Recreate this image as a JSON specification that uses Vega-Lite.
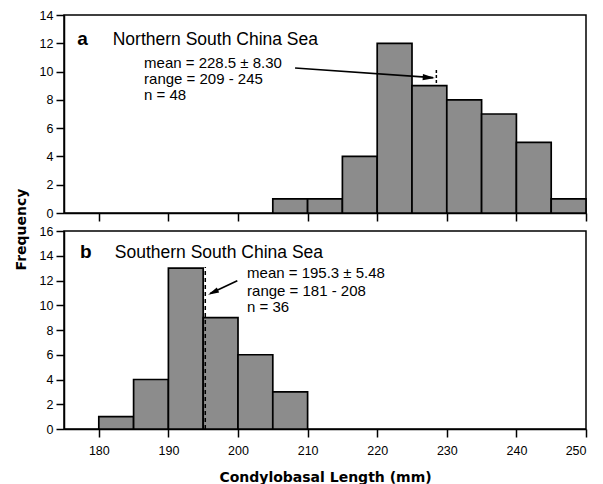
{
  "$schema": "https://vega.github.io/schema/vega-lite/v6.json",
  "padding": {"left": 13, "top": 8, "right": 5, "bottom": 2},
  "background": "white",
  "bounds": "flush",
  "spacing": 18,
  "datasets": {
    "north": [
      {"x": 205, "x2": 210, "y": 1},
      {"x": 210, "x2": 215, "y": 1},
      {"x": 215, "x2": 220, "y": 4},
      {"x": 220, "x2": 225, "y": 12},
      {"x": 225, "x2": 230, "y": 9},
      {"x": 230, "x2": 235, "y": 8},
      {"x": 235, "x2": 240, "y": 7},
      {"x": 240, "x2": 245, "y": 5},
      {"x": 245, "x2": 250, "y": 1}
    ],
    "south": [
      {"x": 180, "x2": 185, "y": 1},
      {"x": 185, "x2": 190, "y": 4},
      {"x": 190, "x2": 195, "y": 13},
      {"x": 195, "x2": 200, "y": 9},
      {"x": 200, "x2": 205, "y": 6},
      {"x": 205, "x2": 210, "y": 3}
    ],
    "northLetter": [{"x": 176.9, "y": 11.88, "label": "a"}],
    "northTitle": [{"x": 182.0, "y": 11.88, "label": "Northern South China Sea"}],
    "northStats": [
      {"x": 186.5, "y": 10.25, "label": "mean = 228.5 ± 8.30"},
      {"x": 186.5, "y": 9.12, "label": "range = 209 - 245"},
      {"x": 186.5, "y": 7.99, "label": "n = 48"}
    ],
    "northArrow": [{"x": 208.2, "y": 10.25, "x2": 228.0, "y2": 9.57}],
    "northHead": [{"x": 228.3, "y": 9.55}],
    "northMean": [{"x": 228.5, "y": 9.2, "y2": 10.2}],
    "southLetter": [{"x": 177.3, "y": 13.83, "label": "b"}],
    "southTitle": [{"x": 182.3, "y": 13.83, "label": "Southern South China Sea"}],
    "southStats": [
      {"x": 201.3, "y": 12.22, "label": "mean = 195.3 ± 5.48"},
      {"x": 201.3, "y": 10.77, "label": "range = 181 - 208"},
      {"x": 201.3, "y": 9.49, "label": "n = 36"}
    ],
    "southArrow": [{"x": 199.9, "y": 11.98, "x2": 196.0, "y2": 10.95}],
    "southHead": [{"x": 195.7, "y": 10.85}],
    "southMean": [{"x": 195.3, "y": 0, "y2": 13.1}]
  },
  "vconcat": [
    {
      "width": 522,
      "height": 198,
      "encoding": {
        "x": {"field": "x", "type": "quantitative",
          "scale": {"domain": [175, 250], "nice": false, "zero": false},
          "axis": {"values": [180, 190, 200, 210, 220, 230, 240, 250], "labels": false, "title": null}},
        "y": {"field": "y", "type": "quantitative",
          "scale": {"domain": [0, 14], "nice": false, "zero": true},
          "axis": {"values": [0, 2, 4, 6, 8, 10, 12, 14], "title": "Frequency", "titleX": -39, "titleY": 214, "titleBaseline": "alphabetic", "titleAngle": 270, "titleAlign": "center"}}
      },
      "layer": [
        {
          "data": {"name": "north"},
          "mark": {"type": "bar", "fill": "#8c8c8c", "stroke": "black", "strokeWidth": 1.7},
          "encoding": {"x2": {"field": "x2"}, "y2": {"datum": 0}}
        },
        {
          "data": {"name": "northLetter"},
          "mark": {"type": "text", "align": "left", "baseline": "alphabetic", "font": "Liberation Sans", "fontWeight": "bold", "fontSize": 19, "color": "black"},
          "encoding": {"text": {"field": "label"}}
        },
        {
          "data": {"name": "northTitle"},
          "mark": {"type": "text", "align": "left", "baseline": "alphabetic", "font": "Liberation Sans", "fontSize": 17.5, "color": "black"},
          "encoding": {"text": {"field": "label"}}
        },
        {
          "data": {"name": "northStats"},
          "mark": {"type": "text", "align": "left", "baseline": "alphabetic", "font": "Liberation Sans", "fontSize": 15, "color": "black"},
          "encoding": {"text": {"field": "label"}}
        },
        {
          "data": {"name": "northArrow"},
          "mark": {"type": "rule", "color": "black", "strokeWidth": 1.6},
          "encoding": {"x2": {"field": "x2"}, "y2": {"field": "y2"}}
        },
        {
          "data": {"name": "northHead"},
          "mark": {"type": "point", "shape": "M0,0L-2,-0.5L-2,0.5Z", "filled": true, "color": "black", "opacity": 1, "size": 150, "angle": 4},
          "encoding": {}
        },
        {
          "data": {"name": "northMean"},
          "mark": {"type": "rule", "color": "black", "strokeWidth": 1.5, "strokeDash": [3, 2]},
          "encoding": {"y2": {"field": "y2"}}
        }
      ]
    },
    {
      "width": 522,
      "height": 198,
      "encoding": {
        "x": {"field": "x", "type": "quantitative",
          "scale": {"domain": [175, 250], "nice": false, "zero": false},
          "axis": {"values": [180, 190, 200, 210, 220, 230, 240, 250], "title": "Condylobasal Length (mm)"}},
        "y": {"field": "y", "type": "quantitative",
          "scale": {"domain": [0, 16], "nice": false, "zero": true},
          "axis": {"values": [0, 2, 4, 6, 8, 10, 12, 14, 16], "title": null}}
      },
      "layer": [
        {
          "data": {"name": "south"},
          "mark": {"type": "bar", "fill": "#8c8c8c", "stroke": "black", "strokeWidth": 1.7},
          "encoding": {"x2": {"field": "x2"}, "y2": {"datum": 0}}
        },
        {
          "data": {"name": "southLetter"},
          "mark": {"type": "text", "align": "left", "baseline": "alphabetic", "font": "Liberation Sans", "fontWeight": "bold", "fontSize": 19, "color": "black"},
          "encoding": {"text": {"field": "label"}}
        },
        {
          "data": {"name": "southTitle"},
          "mark": {"type": "text", "align": "left", "baseline": "alphabetic", "font": "Liberation Sans", "fontSize": 17.5, "color": "black"},
          "encoding": {"text": {"field": "label"}}
        },
        {
          "data": {"name": "southStats"},
          "mark": {"type": "text", "align": "left", "baseline": "alphabetic", "font": "Liberation Sans", "fontSize": 15, "color": "black"},
          "encoding": {"text": {"field": "label"}}
        },
        {
          "data": {"name": "southArrow"},
          "mark": {"type": "rule", "color": "black", "strokeWidth": 1.6},
          "encoding": {"x2": {"field": "x2"}, "y2": {"field": "y2"}}
        },
        {
          "data": {"name": "southHead"},
          "mark": {"type": "point", "shape": "M0,0L-2,-0.5L-2,0.5Z", "filled": true, "color": "black", "opacity": 1, "size": 120, "angle": 155},
          "encoding": {}
        },
        {
          "data": {"name": "southMean"},
          "mark": {"type": "rule", "color": "black", "strokeWidth": 1.5, "strokeDash": [4, 3]},
          "encoding": {"y2": {"field": "y2"}}
        }
      ]
    }
  ],
  "config": {
    "view": {"stroke": "black", "strokeWidth": 1.5},
    "axis": {
      "grid": false,
      "domainColor": "black",
      "domainWidth": 1.5,
      "tickColor": "black",
      "tickWidth": 1.5,
      "tickSize": 8,
      "labelFont": "Liberation Sans",
      "labelFontSize": 12.5,
      "labelColor": "black",
      "labelPadding": 3,
      "labelOverlap": false,
      "titleFont": "DejaVu Sans",
      "titleFontWeight": "bold",
      "titleFontSize": 14,
      "titleColor": "black"
    },
    "axisX": {"labelPadding": 7, "titlePadding": 14},
    "axisY": {"labelPadding": 3}
  }
}
